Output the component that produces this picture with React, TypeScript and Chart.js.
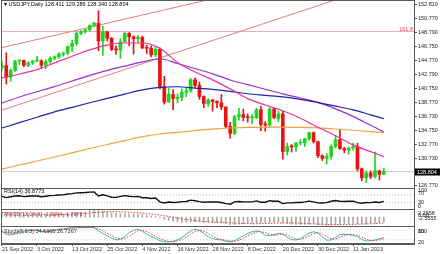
import React, { useEffect, useRef } from 'react';
import { Chart, registerables } from 'chart.js';

Chart.register(...registerables);

// ---------- data ----------
const symbol = 'USDJPY';
const period = 'Daily';

const dateLabels = ['21 Sep 2022', '3 Oct 2022', '13 Oct 2022', '25 Oct 2022', '4 Nov 2022', '16 Nov 2022', '28 Nov 2022', '8 Dec 2022', '20 Dec 2022', '30 Dec 2022', '11 Jan 2023'];
const barsPerLabel = 8;

const opens = [143.75, 144.05, 142.40, 143.35, 144.70, 144.80, 144.10, 144.45, 144.70, 144.75,
  144.10, 144.60, 145.10, 145.30, 145.70, 145.85, 146.80, 147.20, 148.70, 148.95,
  149.20, 149.85, 150.15, 147.60, 148.90, 148.00, 146.40, 146.30, 147.50, 148.70,
  148.20, 147.90, 148.10, 146.60, 146.55, 145.60, 146.40, 141.00, 138.80, 139.90,
  139.30, 139.50, 140.20, 140.40, 142.00, 141.20, 139.60, 138.60, 139.10, 138.90,
  138.70, 138.10, 135.30, 134.30, 136.70, 137.00, 136.60, 136.55, 136.55, 137.70,
  135.60, 135.50, 137.80, 136.40, 137.10, 131.70, 132.40, 132.35, 132.90, 132.95,
  133.50, 134.40, 133.10, 131.10, 130.70, 131.00, 132.40, 133.40, 132.10, 131.90,
  132.20, 132.40, 129.20, 127.90, 128.60, 128.10, 128.90, 128.411];
const highs = [144.70, 145.90, 143.60, 144.80, 144.90, 144.85, 144.60, 144.80, 145.40, 144.90,
  144.90, 145.30, 145.45, 145.90, 146.00, 146.90, 147.70, 148.90, 149.10, 149.30,
  149.90, 150.30, 151.95, 149.70, 149.00, 148.10, 146.90, 147.90, 148.80, 148.80,
  148.30, 148.40, 148.30, 147.00, 146.90, 146.80, 146.60, 142.50, 140.80, 140.60,
  140.00, 140.70, 140.80, 142.20, 142.30, 141.70, 139.70, 139.30, 139.20, 139.00,
  139.90, 138.10, 135.90, 136.90, 137.90, 137.80, 137.10, 137.00, 137.90, 138.20,
  136.00, 138.00, 137.90, 137.50, 137.50, 132.90, 132.70, 133.00, 133.40, 133.60,
  134.50, 134.50, 133.20, 131.20, 131.40, 132.70, 134.00, 134.80, 132.30, 132.30,
  132.90, 132.90, 129.30, 128.90, 128.90, 131.60, 129.00, 129.286];
const lows = [143.40, 141.40, 141.80, 143.20, 144.20, 143.90, 143.90, 144.20, 144.60, 143.70,
  143.60, 144.40, 144.90, 145.10, 145.40, 145.60, 146.10, 147.00, 148.50, 148.70,
  149.00, 149.70, 146.20, 145.50, 147.60, 146.20, 145.70, 145.10, 147.40, 146.90,
  145.70, 147.30, 146.50, 145.80, 145.30, 145.30, 140.70, 138.50, 138.80, 137.70,
  138.70, 139.00, 139.60, 140.20, 140.90, 139.20, 138.00, 138.20, 137.50, 138.00,
  137.70, 135.10, 133.60, 134.10, 136.20, 136.10, 135.90, 135.70, 136.40, 134.70,
  134.60, 135.30, 136.40, 136.00, 130.60, 131.20, 131.60, 131.70, 132.60, 132.40,
  133.30, 132.90, 130.80, 130.40, 129.90, 130.60, 132.20, 132.00, 131.50, 131.30,
  131.90, 128.90, 127.50, 127.20, 127.80, 127.90, 127.60, 128.340];
const closes = [144.05, 142.40, 143.35, 144.70, 144.80, 144.10, 144.45, 144.70, 144.75, 144.10,
  144.60, 145.10, 145.30, 145.70, 145.85, 146.80, 147.20, 148.70, 148.95, 149.20,
  149.85, 150.15, 147.60, 148.90, 148.00, 146.40, 146.30, 147.50, 148.70, 148.20,
  147.90, 148.10, 146.60, 146.55, 145.60, 146.40, 141.00, 138.80, 139.90, 139.30,
  139.50, 140.20, 140.40, 142.00, 141.20, 139.60, 138.60, 139.10, 138.90, 138.70,
  138.10, 135.30, 134.30, 136.70, 137.00, 136.60, 136.55, 136.55, 137.70, 135.60,
  135.50, 137.80, 136.60, 137.10, 131.70, 132.40, 132.35, 132.90, 132.95, 133.50,
  134.40, 133.10, 131.10, 130.70, 131.00, 132.40, 133.40, 132.10, 131.90, 132.20,
  132.40, 129.20, 127.90, 128.60, 128.10, 128.90, 128.40, 128.804];

// moving averages, read at these bar indexes
const maIdx = [0, 4, 8, 12, 16, 20, 24, 28, 32, 36, 40, 44, 48, 52, 56, 60, 64, 68, 72, 76, 80, 84, 87];
const maPink = [142.26, 142.84, 143.47, 144.44, 145.40, 146.32, 147.01, 147.30, 147.30, 146.55, 144.49, 143.14, 142.00, 140.70, 139.30, 138.38, 137.56, 136.47, 135.18, 133.96, 132.65, 131.67, 130.95];
const maPurple = [138.67, 139.54, 140.29, 141.03, 141.83, 142.64, 143.37, 143.97, 144.58, 145.04, 144.36, 143.63, 142.87, 141.98, 141.31, 140.65, 139.99, 139.39, 138.75, 137.83, 136.75, 135.47, 134.51];
const maBlue = [135.07, 135.85, 136.62, 137.39, 138.05, 138.70, 139.34, 139.95, 140.55, 140.91, 141.01, 140.82, 140.62, 140.35, 140.00, 139.77, 139.54, 139.18, 138.72, 138.23, 137.69, 136.97, 136.42];
const maOrange = [129.16, 129.75, 130.32, 130.90, 131.50, 132.12, 132.70, 133.26, 133.82, 134.21, 134.45, 134.71, 134.90, 135.07, 135.16, 135.21, 135.21, 135.17, 135.08, 134.93, 134.75, 134.55, 134.41];

// trend lines: [barIndex, price] end points
const trendUpper = [[-1, 146.49], [94, 160.42]];
const trendLower = [[-1, 137.43], [94, 157.27]];
const fiboLevel = 148.95;
const fiboText = '161.8';

const priceTicks = [152.81, 150.77, 148.79, 146.75, 144.77, 142.79, 140.75, 138.77, 136.73, 134.75, 132.77, 130.73, 126.77];
const priceMin = 126.44;
const priceMax = 153.49;

const rsi = [62, 56, 60, 64, 65, 61, 63, 64, 64, 60,
  63, 66, 67, 69, 70, 74, 76, 80, 81, 82,
  84, 85, 64, 70, 65, 58, 57, 62, 66, 63,
  61, 62, 55, 55, 51, 54, 34, 28, 33, 31,
  32, 35, 36, 43, 40, 35, 32, 34, 33, 33,
  31, 25, 22, 34, 36, 34, 34, 34, 39, 32,
  32, 40, 37, 38, 25, 29, 29, 31, 31, 34,
  38, 34, 29, 28, 30, 37, 41, 37, 36, 37,
  38, 30, 27, 31, 30, 33, 31, 36.8773];
const rsiLevels = [30, 70];
const rsiAxisAt = [91, 79, 30, 9];
const rsiAxisText = ['100', '70', '30', '0'];

const macdMain = [1.30, 1.15, 1.05, 1.05, 1.05, 0.98, 0.95, 0.93, 0.92, 0.85,
  0.83, 0.85, 0.88, 0.93, 0.97, 1.08, 1.20, 1.35, 1.48, 1.65,
  1.95, 2.2658, 2.05, 1.90, 1.70, 1.42, 1.20, 1.10, 1.10, 1.05,
  0.98, 0.95, 0.78, 0.62, 0.42, 0.33, -0.15, -0.70, -1.00, -1.25,
  -1.45, -1.52, -1.55, -1.42, -1.38, -1.45, -1.60, -1.65, -1.70, -1.72,
  -1.78, -2.00, -2.30, -2.25, -2.15, -2.05, -1.98, -1.90, -1.75, -1.80,
  -1.82, -1.65, -1.60, -1.52, -1.85, -2.05, -2.18, -2.25, -2.28, -2.25,
  -2.15, -2.15, -2.30, -2.45, -2.5555, -2.40, -2.22, -2.15, -2.10, -2.05,
  -1.98, -2.05, -2.20, -2.15, -2.05, -1.85, -1.72, -1.5094];
const macdSignal = [1.45, 1.40, 1.33, 1.26, 1.20, 1.14, 1.08, 1.04, 1.00, 0.96,
  0.92, 0.90, 0.88, 0.88, 0.89, 0.91, 0.95, 1.01, 1.08, 1.17,
  1.28, 1.42, 1.53, 1.63, 1.71, 1.75, 1.75, 1.70, 1.63, 1.55,
  1.46, 1.36, 1.25, 1.13, 0.99, 0.86, 0.68, 0.46, 0.24, -0.02,
  -0.26, -0.51, -0.73, -0.92, -1.09, -1.23, -1.36, -1.46, -1.54, -1.59,
  -1.61, -1.66, -1.75, -1.84, -1.92, -1.98, -2.02, -2.03, -2.03, -2.02,
  -1.99, -1.94, -1.90, -1.82, -1.80, -1.78, -1.80, -1.84, -1.90, -1.98,
  -2.04, -2.09, -2.13, -2.20, -2.27, -2.32, -2.32, -2.30, -2.28, -2.26,
  -2.23, -2.17, -2.13, -2.10, -2.07, -2.00, -1.92, -1.7971];
const macdAxisAt = [1.21, 0.46, -0.35];
const macdAxisText = ['2.2658', '0.00', '-2.5555'];

const stochMain = [70, 55, 50, 60, 72, 75, 78, 80, 78, 72,
  70, 74, 80, 85, 88, 92, 94, 95, 95, 96,
  96, 95, 75, 60, 45, 30, 20, 25, 40, 65,
  78, 85, 72, 55, 40, 30, 15, 8, 8, 12,
  20, 35, 55, 75, 85, 78, 60, 40, 28, 22,
  20, 12, 8, 15, 30, 45, 60, 70, 75, 68,
  48, 45, 52, 60, 55, 35, 22, 20, 28, 45,
  62, 70, 62, 40, 18, 20, 35, 52, 55, 52,
  48, 40, 22, 14, 15, 20, 28, 34.6365];
const stochSignal = [75, 66, 58, 55, 61, 69, 75, 78, 79, 77,
  73, 72, 75, 80, 84, 88, 91, 94, 95, 95,
  96, 96, 89, 77, 60, 45, 32, 25, 28, 43,
  61, 76, 78, 71, 56, 42, 28, 18, 10, 9,
  13, 22, 37, 55, 72, 79, 74, 59, 43, 30,
  23, 18, 13, 12, 18, 30, 45, 58, 68, 71,
  64, 54, 48, 52, 56, 50, 37, 26, 23, 31,
  45, 59, 65, 57, 40, 27, 24, 36, 47, 53,
  52, 47, 37, 25, 17, 16, 21, 26.7367];
const stochLevels = [20, 80];
const stochAxisAt = [74.5, 74.5, 7.2];
const stochAxisText = ['80', '100', '20'];

// ---------- styles ----------
const FONT = 'Liberation Sans';
const UP = '#1fd51f';
const DOWN = '#e81313';
const TXT = '#222';

const last = closes.length - 1;
const idx = closes.map((_, i) => i);
const candleColors = idx.map(i => (closes[i] >= opens[i] ? UP : DOWN));
const pts = (xs: number[], ys: number[]) => xs.map((x, k) => ({ x, y: ys[k] }));
const seg = (p: number[][]) => p.map(([x, y]) => ({ x, y }));
const hline = (v: number) => [{ x: -2, y: v }, { x: 96, y: v }];

const lineDs = (data: any[], color: string, axis: string, extra: any = {}) => ({
  type: 'line', data, yAxisID: axis, borderColor: color, borderWidth: 1.2,
  pointRadius: 0, fill: false, ...extra,
});

const fixedTicks = (at: number[]) => (sc: any) => { sc.ticks = at.map(v => ({ value: v })); };
const fitY = (sc: any) => { sc.width = 26; sc.paddingTop = 0; sc.paddingBottom = 0; };

const subAxis = (weight: number, min: number, max: number, at: number[], text: string[]) => ({
  type: 'linear', position: 'right', stack: 'panes', stackWeight: weight, min, max, offset: false,
  afterBuildTicks: fixedTicks(at), afterFit: fitY,
  ticks: { autoSkip: false, padding: 4, color: TXT, font: { family: FONT, size: 5.5 },
    callback: (_v: any, i: number) => text[i] },
  grid: { drawOnChartArea: false, drawTicks: false },
  border: { display: true, color: '#555' },
});

const decorPlugin = {
  id: 'decor',
  afterDraw(chart: any) {
    const { ctx, chartArea: a, scales: s } = chart;
    ctx.save();
    // pane frames
    ctx.strokeStyle = '#5c5c5c';
    ctx.lineWidth = 1;
    ctx.beginPath();
    ctx.moveTo(a.left + 0.5, a.top);
    ctx.lineTo(a.left + 0.5, a.bottom);
    [s.y, s.rsi, s.macd, s.stoch].forEach((p: any) => {
      const yy = Math.round(p.top) + 0.5;
      ctx.moveTo(a.left, yy);
      ctx.lineTo(a.right, yy);
    });
    ctx.moveTo(a.left, Math.round(a.bottom) - 0.5);
    ctx.lineTo(a.right, Math.round(a.bottom) - 0.5);
    ctx.stroke();

    ctx.textBaseline = 'middle';
    ctx.textAlign = 'left';
    ctx.font = `5.5px "${FONT}"`;
    ctx.fillStyle = '#000';
    ctx.fillText(`\u25BE ${symbol},${period} ${opens[last].toFixed(3)} ${highs[last].toFixed(3)} ${lows[last].toFixed(3)} ${closes[last].toFixed(3)}`, a.left + 3, s.y.top + 4.5);
    ctx.fillText(`RSI(14) ${rsi[last].toFixed(4)}`, a.left + 3, s.rsi.top + 3.5);
    ctx.fillStyle = '#b23a3a';
    ctx.fillText(`MACD(12,26,9) ${macdMain[last].toFixed(4)} ${macdSignal[last].toFixed(4)}`, a.left + 3, s.macd.top + 5);
    ctx.fillStyle = '#333';
    ctx.fillText(`Stoch(5,3,3) ${stochMain[last].toFixed(4)} ${stochSignal[last].toFixed(4)}`, a.left + 3, s.stoch.top + 5.5);

    // fibo label
    ctx.textAlign = 'right';
    ctx.fillStyle = '#d3414b';
    ctx.fillText(fiboText, a.right - 1, s.y.getPixelForValue(fiboLevel) - 2.5);

    // current price box
    const py = Math.round(s.y.getPixelForValue(closes[last]));
    ctx.fillStyle = '#000';
    ctx.fillRect(a.right + 1, py - 3.5, 25, 7);
    ctx.fillStyle = '#fff';
    ctx.textAlign = 'left';
    ctx.fillText(closes[last].toFixed(3), a.right + 3, py + 0.3);
    ctx.restore();
  },
};

export default function App() {
  const ref = useRef<HTMLCanvasElement>(null);
  useEffect(() => {
    if (!ref.current) return;
    Chart.defaults.font.family = FONT;
    const datasets: any[] = [
      lineDs(seg(trendUpper), '#e57c7f', 'y', { borderWidth: 1, order: 20 }),
      lineDs(seg(trendLower), '#e57c7f', 'y', { borderWidth: 1, order: 20 }),
      lineDs(hline(fiboLevel), '#f0a9b6', 'y', { borderWidth: 1, order: 20 }),
      lineDs(hline(closes[last]), '#cfcfcf', 'y', { borderWidth: 1, order: 20 }),
      {
        type: 'bar', data: idx.map(i => ({ x: i, y: [lows[i], highs[i]] })), yAxisID: 'y',
        backgroundColor: candleColors, barThickness: 1, grouped: false, order: 6,
      },
      {
        type: 'bar', data: idx.map(i => ({ x: i, y: [opens[i], closes[i]] })), yAxisID: 'y',
        backgroundColor: candleColors, barThickness: 3, grouped: false, minBarLength: 1, order: 5,
      },
      lineDs(pts(maIdx, maOrange), '#f6a03c', 'y', { cubicInterpolationMode: 'monotone', order: 2 }),
      lineDs(pts(maIdx, maBlue), '#1c24a6', 'y', { cubicInterpolationMode: 'monotone', order: 2 }),
      lineDs(pts(maIdx, maPurple), '#9a30cf', 'y', { cubicInterpolationMode: 'monotone', order: 2 }),
      lineDs(pts(maIdx, maPink), '#e5349b', 'y', { cubicInterpolationMode: 'monotone', order: 1 }),
      // RSI
      ...rsiLevels.map(v => lineDs(hline(v), '#b5b5b5', 'rsi', { borderWidth: 1, borderDash: [1, 2], order: 20 })),
      lineDs(pts(idx, rsi), '#111', 'rsi', { borderWidth: 1.4, order: 1 }),
      // MACD
      {
        type: 'bar', data: pts(idx, macdMain), yAxisID: 'macd', backgroundColor: '#a9a9a9',
        barThickness: 1, grouped: false, order: 6,
      },
      lineDs(pts(idx, macdSignal), '#e0393d', 'macd', { borderWidth: 1, borderDash: [1.5, 1.5], order: 1 }),
      // Stoch
      ...stochLevels.map(v => lineDs(hline(v), '#c8c8c8', 'stoch', { borderWidth: 1, borderDash: [1, 2], order: 20 })),
      lineDs(pts(idx, stochMain), '#3bb6a6', 'stoch', { borderWidth: 1, order: 2 }),
      lineDs(pts(idx, stochSignal), '#e0393d', 'stoch', { borderWidth: 1, borderDash: [1.5, 1.5], order: 1 }),
    ];

    const chart = new Chart(ref.current, {
      type: 'bar',
      data: { datasets },
      plugins: [decorPlugin],
      options: {
        animation: false,
        responsive: false,
        maintainAspectRatio: false,
        devicePixelRatio: 1,
        events: [],
        layout: { padding: { left: 1, top: 0, right: 0, bottom: 0 } },
        plugins: { legend: { display: false }, tooltip: { enabled: false }, title: { display: false } },
        scales: {
          x: {
            type: 'linear', position: 'bottom', min: -0.2, max: 93.88, offset: false,
            afterBuildTicks: (sc: any) => { sc.ticks = dateLabels.map((_, k) => ({ value: k * barsPerLabel })); },
            afterFit: (sc: any) => { sc.height = 10; sc.paddingLeft = 0; sc.paddingRight = 0; },
            ticks: {
              autoSkip: false, maxRotation: 0, minRotation: 0, align: 'start', padding: 0.5,
              color: '#333', font: { family: FONT, size: 5.5 },
              callback: (_v: any, i: number) => dateLabels[i],
            },
            grid: { drawOnChartArea: false, tickLength: 2, color: '#555', offset: false },
            border: { display: true, color: '#555' },
          },
          y: {
            type: 'linear', position: 'right', stack: 'panes', stackWeight: 188,
            min: priceMin, max: priceMax, offset: false,
            afterBuildTicks: fixedTicks(priceTicks), afterFit: fitY,
            ticks: { autoSkip: false, padding: 1, color: TXT, font: { family: FONT, size: 5.5 },
              callback: (v: any) => Number(v).toFixed(3) },
            grid: { drawOnChartArea: false, tickLength: 3, color: '#555' },
            border: { display: true, color: '#555' },
          },
          rsi: subAxis(21, -2.5, 105, rsiAxisAt, rsiAxisText),
          macd: subAxis(17, -2.75, 2.55, macdAxisAt, macdAxisText),
          stoch: subAxis(18, -5, 105, stochAxisAt, stochAxisText),
        },
      } as any,
    } as any);
    return () => chart.destroy();
  }, []);

  return (
    <div style={{ position: 'absolute', left: 0, top: 0, width: 440, height: 254, background: '#fff' }}>
      <canvas ref={ref} width={440} height={254} style={{ display: 'block', width: 440, height: 254 }} />
    </div>
  );
}
